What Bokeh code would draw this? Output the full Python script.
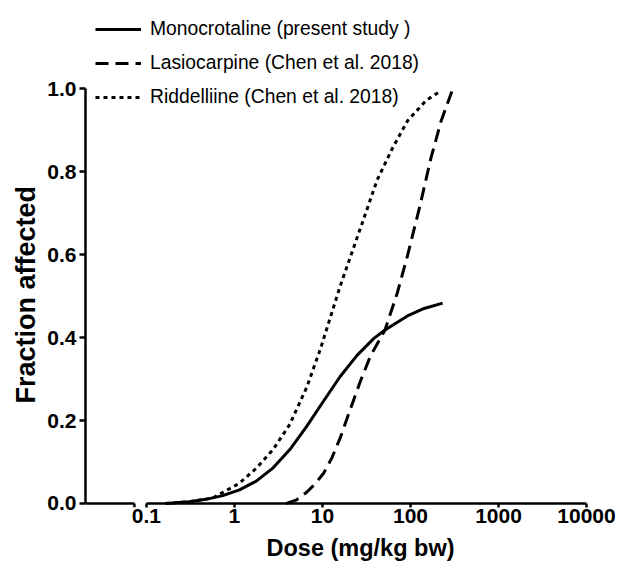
from bokeh.plotting import figure
from bokeh.models import (FixedTicker, CustomJSTickFormatter, Range1d, Legend,
                          LegendItem, Title)
from bokeh.embed import file_html
from bokeh.resources import INLINE

# ---------------- data ----------------
mono_dose = [0.165, 0.305, 0.474, 0.735, 1.14, 1.77, 2.75, 4.26, 6.62, 10.3,
             15.9, 24.7, 38.4, 51.3, 71.0, 92.4, 143.0, 232.0]
mono_frac = [0.0, 0.004, 0.010, 0.019, 0.033, 0.054, 0.086, 0.130, 0.186, 0.247,
             0.306, 0.357, 0.398, 0.418, 0.437, 0.452, 0.470, 0.483]

lasio_dose = [3.9, 5.0, 6.62, 8.3, 10.3, 12.8, 15.9, 20.7, 27.0, 35.0,
              51.3, 71.0, 92.4, 126.0, 171.0, 223.0, 302.0]
lasio_frac = [0.0, 0.008, 0.027, 0.048, 0.073, 0.110, 0.158, 0.227, 0.295, 0.355,
              0.418, 0.508, 0.597, 0.711, 0.833, 0.922, 0.999]

ridd_dose = [0.165, 0.30, 0.565, 1.14, 1.77, 2.75, 4.26, 6.62, 9.4, 15.9,
             28.2, 41.9, 62.0, 92.4, 150.0, 223.0]
ridd_frac = [0.0, 0.004, 0.013, 0.049, 0.085, 0.130, 0.191, 0.280, 0.370, 0.524,
             0.675, 0.780, 0.855, 0.922, 0.971, 0.995]

series_labels = ["Monocrotaline (present study )",
                 "Lasiocarpine (Chen et al. 2018)",
                 "Riddelliine (Chen et al. 2018)"]

x_ticks = [0.1, 1, 10, 100, 1000, 10000]
y_ticks = [0.0, 0.2, 0.4, 0.6, 0.8, 1.0]
x_title = "Dose (mg/kg bw)"
y_title = "Fraction affected"

# axis extents and the x-axis break
x_start, x_end = 0.0203, 10000
break_lo, break_hi = 0.073, 0.1
y_start, y_end = -0.00965, 1.2122

FONT = "Liberation Sans"

p = figure(width=620, height=573, x_axis_type="log",
           x_range=Range1d(x_start, x_end), y_range=Range1d(y_start, y_end),
           output_backend="svg", toolbar_location=None,
           min_border_left=85, min_border_right=34,
           min_border_top=0, min_border_bottom=66)
p.outline_line_color = None
p.xgrid.visible = False
p.ygrid.visible = False
p.background_fill_color = "white"

# ---- x axis: ticks/labels from the axis, axis line drawn with the break ----
xa = p.xaxis[0]
xa.ticker = FixedTicker(ticks=x_ticks)
xa.formatter = CustomJSTickFormatter(code="return tick.toString();")
xa.axis_line_color = None
xa.major_tick_line_width = 2.5
xa.major_tick_in = 4
xa.major_tick_out = 0
xa.minor_tick_line_color = None
xa.major_label_standoff = 1
xa.major_label_text_font = FONT
xa.major_label_text_font_style = "bold"
xa.major_label_text_font_size = "21px"
xa.major_label_text_color = "black"

p.segment(x0=[x_start, break_hi], y0=[0, 0], x1=[break_lo, x_end], y1=[0, 0],
          line_color="black", line_width=2.5)
p.segment(x0=[break_lo], y0=[0], x1=[break_lo], y1=[y_start],
          line_color="black", line_width=2.5)

# x title (placed below the tick labels)
p.add_layout(Title(text=x_title, align="left", offset=181, standoff=15,
                   text_font=FONT, text_font_style="bold",
                   text_font_size="23.5px", text_color="black"), "below")

# ---- y axis ----
ya = p.yaxis[0]
ya.ticker = FixedTicker(ticks=y_ticks)
ya.formatter = CustomJSTickFormatter(code="return tick.toFixed(1);")
ya.bounds = (0, 1)
ya.axis_line_width = 2.5
ya.major_tick_line_width = 2.5
ya.major_tick_in = 0
ya.major_tick_out = 6
ya.minor_tick_line_color = None
ya.major_label_standoff = 3
ya.major_label_text_font = FONT
ya.major_label_text_font_style = "bold"
ya.major_label_text_font_size = "21px"
ya.major_label_text_color = "black"

# y title, placed along the 0..1 part of the axis
p.add_layout(Title(text=y_title, align="left", offset=104, standoff=8,
                   text_font=FONT, text_font_style="bold",
                   text_font_size="27px", text_color="black"), "left")

# ---- curves ----
r_mono = p.line(mono_dose, mono_frac, line_color="black", line_width=3)
r_lasio = p.line(lasio_dose, lasio_frac, line_color="black", line_width=3,
                 line_dash="13 7")
r_ridd = p.line(ridd_dose, ridd_frac, line_color="black", line_width=3,
                line_dash="4 4")

legend = Legend(items=[LegendItem(label=series_labels[0], renderers=[r_mono]),
                       LegendItem(label=series_labels[1], renderers=[r_lasio]),
                       LegendItem(label=series_labels[2], renderers=[r_ridd])],
                location=(10, 398), padding=0, margin=0, spacing=10,
                glyph_width=46, glyph_height=24, label_height=24,
                label_standoff=9, border_line_color=None,
                background_fill_alpha=0,
                label_text_font=FONT, label_text_font_size="19.3px",
                label_text_baseline="alphabetic", label_text_color="black")
p.add_layout(legend)

open("out.html", "w").write(file_html(p, INLINE))
